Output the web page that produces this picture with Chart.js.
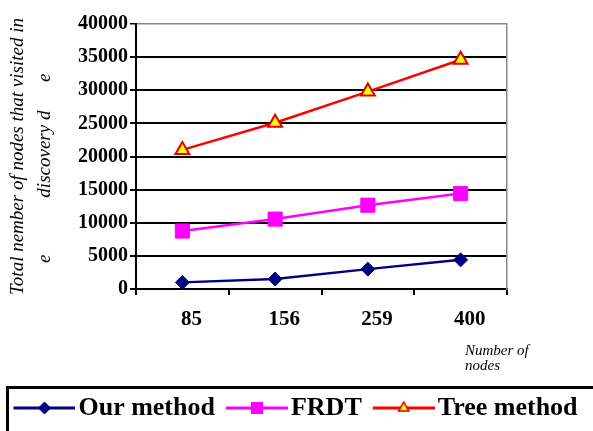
<!DOCTYPE html>
<html><head><meta charset="utf-8">
<script src="https://cdn.jsdelivr.net/npm/chart.js@4"></script>
<style>html,body{margin:0;padding:0;background:#fff}#wrap{width:593px;height:431px}</style>
</head><body><div id="wrap"><canvas id="c" width="593" height="431"></canvas></div>
<script>
const categories = ['85', '156', '259', '400'];
const ourMethod = [1000, 1500, 3000, 4400];
const frdt = [8750, 10550, 12650, 14400];
const treeMethod = [21000, 25100, 29800, 34600];
const seriesNames = ['Our method', 'FRDT', 'Tree method'];
const yTicksMax = 40000;
const yTickStep = 5000;
const yTitle = ['Total nember of nodes that visited in', 'e            discovery d      e     '];
const xTitle = ['Number of', 'nodes'];

const SERIF = '"Liberation Serif", "Times New Roman", serif';

function legendImage(color, style, radius, fill, border) {
  const W = 70, H = 26;
  const cv = document.createElement('canvas');
  cv.width = W; cv.height = H;
  const g = cv.getContext('2d');
  g.strokeStyle = color; g.lineWidth = 3;
  g.beginPath(); g.moveTo(8, H / 2); g.lineTo(70, H / 2); g.stroke();
  g.fillStyle = fill; g.strokeStyle = border; g.lineWidth = 1.5;
  Chart.helpers.drawPoint(g, {pointStyle: style, radius: radius, borderWidth: 1.5, rotation: 0}, 39, H / 2);
  return cv;
}

const styles = [
  {color: '#000080', style: 'rectRot', r: 7, lr: 5.5, fill: '#000080', border: '#000080'},
  {color: '#FF00FF', style: 'rect', r: 10, lr: 7.5, fill: '#FF00FF', border: '#FF00FF'},
  {color: '#FF0000', style: 'triangle', r: 8, lr: 6, fill: '#FFFF00', border: '#DD0000'}
];
const seriesData = [ourMethod, frdt, treeMethod];

const datasets = seriesNames.map((name, i) => ({
  label: name,
  data: seriesData[i],
  borderColor: styles[i].color,
  backgroundColor: styles[i].fill,
  borderWidth: 2.5,
  pointStyle: styles[i].style,
  pointRadius: styles[i].r,
  pointHoverRadius: styles[i].r,
  pointBackgroundColor: styles[i].fill,
  pointBorderColor: styles[i].border,
  pointBorderWidth: i === 2 ? 2 : 1,
  tension: 0,
  fill: false
}));

const legendImgs = styles.map(s => legendImage(s.color, s.style, s.lr, s.fill, s.border));

const extras = {
  id: 'extras',
  afterDraw(chart) {
    const ctx = chart.ctx;
    const lg = chart.legend;
    ctx.save();
    ctx.strokeStyle = '#000';
    ctx.lineWidth = 3;
    ctx.strokeRect(7.5, lg.top + 5.5, 640, 120);
    const xs = chart.scales.x;
    ctx.fillStyle = '#000';
    ctx.font = 'italic 15px ' + SERIF;
    ctx.textAlign = 'left';
    ctx.textBaseline = 'alphabetic';
    ctx.fillText(xTitle[0], xs.right - 42, xs.top + 66);
    ctx.fillText(xTitle[1], xs.right - 42, xs.top + 81);
    ctx.restore();
  }
};

new Chart(document.getElementById('c'), {
  type: 'line',
  data: {labels: categories, datasets: datasets},
  options: {
    responsive: false,
    devicePixelRatio: 1,
    animation: false,
    layout: {padding: {top: 24, left: 0, right: 0, bottom: 0}},
    plugins: {
      tooltip: {enabled: false},
      legend: {
        position: 'bottom',
        labels: {
          usePointStyle: true,
          pointStyleWidth: 50,
          padding: 13,
          color: '#000',
          font: {family: SERIF, size: 26, weight: 'bold'},
          generateLabels(chart) {
            return chart.data.datasets.map((d, i) => ({
              text: d.label,
              pointStyle: legendImgs[i],
              fillStyle: 'transparent',
              strokeStyle: 'transparent',
              lineWidth: 0,
              hidden: false,
              datasetIndex: i,
              fontColor: '#000'
            }));
          }
        }
      }
    },
    scales: {
      x: {
        offset: true,
        grid: {offset: true, drawOnChartArea: false, drawTicks: true, tickLength: 6, color: '#000', lineWidth: 2},
        border: {display: true, color: '#000', width: 2},
        ticks: {color: '#000', font: {family: SERIF, size: 21, weight: 'bold'}, padding: 12, labelOffset: 9, maxRotation: 0, autoSkip: false},
        afterFit(s) { s.height = 93; }
      },
      y: {
        min: 0, max: yTicksMax,
        ticks: {stepSize: yTickStep, color: '#000', font: {family: SERIF, size: 20, weight: 'bold'}, padding: 2, callback: v => String(v)},
        grid: {
          color: c => (c.tick && c.tick.value === yTicksMax) ? '#8a8a8a' : '#000',
          lineWidth: c => (c.tick && c.tick.value === yTicksMax) ? 1.5 : 2,
          tickColor: '#000', tickLength: 6
        },
        border: {display: true, color: '#000', width: 2},
        title: {display: true, text: yTitle, color: '#000', font: {family: SERIF, size: 19, style: 'italic', lineHeight: 1.45}, padding: {top: 4, bottom: 0}},
        afterFit(s) { s.width = 136; }
      },
      y2: {
        position: 'right',
        min: 0, max: yTicksMax,
        grid: {drawOnChartArea: false, drawTicks: false},
        ticks: {display: false},
        border: {display: true, color: '#8a8a8a', width: 1.5},
        afterFit(s) { s.width = 86; }
      }
    }
  },
  plugins: [extras]
});
</script>
</body></html>
